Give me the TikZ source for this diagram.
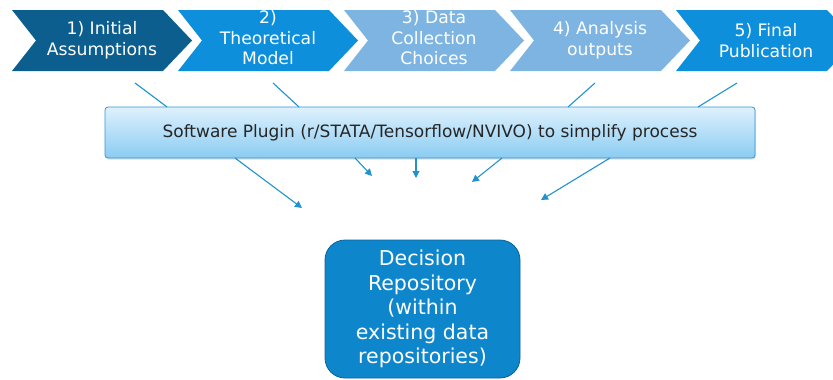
\documentclass[tikz,border=0pt]{standalone}
\usepackage{fontspec}
\setmainfont{DejaVu Sans}
\usetikzlibrary{arrows.meta,calc,shadows}
\definecolor{cdark}{RGB}{11,94,142}
\definecolor{cbright}{RGB}{13,143,220}
\definecolor{clight}{RGB}{125,180,225}
\definecolor{crepo}{RGB}{14,134,204}
\definecolor{crepob}{RGB}{10,98,156}
\definecolor{cgradtop}{RGB}{222,241,253}
\definecolor{cgradbot}{RGB}{138,204,242}
\definecolor{cboxb}{RGB}{55,150,212}
\definecolor{cconn}{RGB}{32,146,206}
\tikzset{
  chevtext/.style={text=white,align=center,font=\fontsize{17.2}{20.5}\selectfont,inner sep=0pt},
  conn/.style={draw=cconn,line width=1.1pt},
  connarrow/.style={conn,-{Triangle[length=7pt,width=7pt]}},
}
\newcommand{\chev}[2]{%
  \fill[#2] (#1,10) -- ++(151,0) -- ++(29,30.5) -- ++(-29,30.5) -- ++(-151,0) -- ++(24,-30.5) -- cycle;}
\begin{document}
\begin{tikzpicture}[x=1pt,y=-1pt]
\useasboundingbox (0,0) rectangle (833,380);
\begin{scope}
\clip (0,0) rectangle (833,380);
\chev{12}{cdark}
\chev{178}{cbright}
\chev{344}{clight}
\chev{510}{clight}
\chev{676}{cbright}
\end{scope}
\node[chevtext] (c1) at (102,40.5) {1) Initial\\Assumptions};
\node[chevtext] (c2) at (268,38) {2)\\Theoretical\\Model};
\node[chevtext] (c3) at (434,38) {3) Data\\Collection\\Choices};
\node[chevtext] (c4) at (600,40.5) {4) Analysis\\outputs};
\node[chevtext] (c5) at (766,40.5) {5) Final\\Publication};

\node[draw=cboxb,line width=0.8pt,rounded corners=3pt,top color=cgradtop,bottom color=cgradbot,
  minimum width=650pt,minimum height=51pt,inner sep=0pt,
  drop shadow={opacity=0.25,shadow xshift=1pt,shadow yshift=-1.5pt},
  font=\fontsize{17}{20}\selectfont,text=black!85] (plugin) at (430,132.5)
  {Software Plugin (r/STATA/Tensorflow/NVIVO) to simplify process};

\node[draw=crepob,line width=0.8pt,fill=crepo,rounded corners=20pt,
  minimum width=195pt,minimum height=138pt,inner sep=0pt,text=white,align=center,
  font=\fontsize{20.5}{24.5}\selectfont] (repo) at (422.5,309)
  {Decision\\Repository\\(within\\existing data\\repositories)};

% connectors from stages into plugin
\coordinate (s1) at (135,83); \coordinate (e1) at (167,107);
\coordinate (s2) at (273,83); \coordinate (e2) at (299,107);
\coordinate (s3) at (595,83); \coordinate (e3) at (568,107);
\coordinate (s4) at (737,83); \coordinate (e4) at (698,107);
\draw[conn] (s1) -- (e1);
\draw[conn] (s2) -- (e2);
\draw[conn] (s3) -- (e3);
\draw[conn] (s4) -- (e4);
% arrows from plugin toward repository
\coordinate (b1) at (235,158); \coordinate (a1) at (302,208);
\coordinate (b2) at (355,158); \coordinate (a2) at (372,176);
\coordinate (b3) at (416,158); \coordinate (a3) at (416,178);
\coordinate (b4) at (502,158); \coordinate (a4) at (472,182);
\coordinate (b5) at (610,158); \coordinate (a5) at (541,200);
\draw[connarrow] (b1) -- (a1);
\draw[connarrow] (b2) -- (a2);
\draw[connarrow] (b3) -- (a3);
\draw[connarrow] (b4) -- (a4);
\draw[connarrow] (b5) -- (a5);
\end{tikzpicture}
\end{document}
